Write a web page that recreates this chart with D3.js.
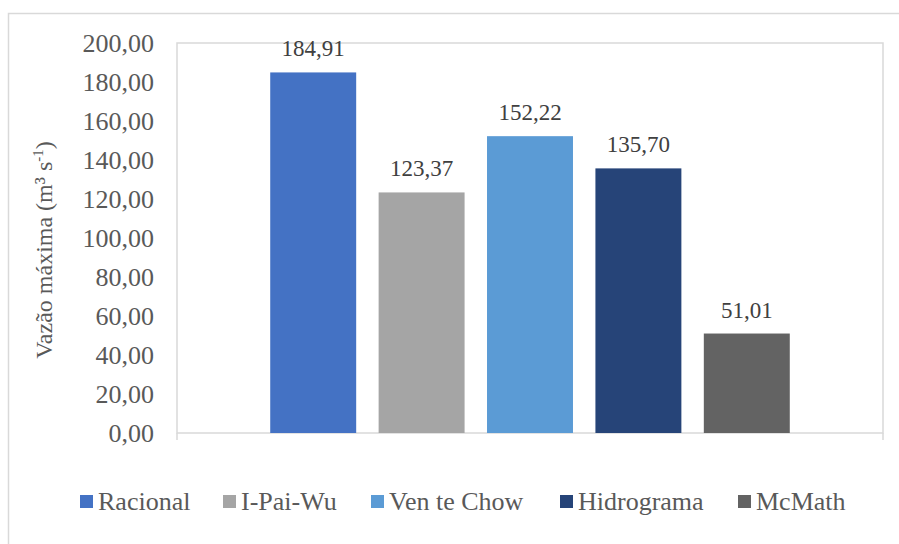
<!DOCTYPE html>
<html>
<head>
  <meta charset="utf-8">
  <script src="https://d3js.org/d3.v7.min.js"></script>
  <style>
    body { margin: 0; background: #fff; }
  </style>
</head>
<body>
  <div id="chart"></div>
  <script>
    var categories = ["Racional", "I-Pai-Wu", "Ven te Chow", "Hidrograma", "McMath"];
    var values = [184.91, 123.37, 152.22, 135.70, 51.01];
    var colors = ["#4472C4", "#A5A5A5", "#5B9BD5", "#264478", "#636363"];
    var yTicks = [0, 20, 40, 60, 80, 100, 120, 140, 160, 180, 200];

    var width = 899, height = 544;
    var plot = { left: 177, right: 883, top: 43, bottom: 433 };
    var serif = "'Liberation Serif', 'Times New Roman', Tinos, 'DejaVu Serif', serif";

    var svg = d3.select("#chart").append("svg")
      .attr("width", width)
      .attr("height", height)
      .style("font-family", serif);

    // outer chart border
    svg.append("rect")
      .attr("x", 8.5).attr("y", 13.5)
      .attr("width", 1000).attr("height", 1000)
      .attr("fill", "none")
      .attr("stroke", "#d9d9d9")
      .attr("stroke-width", 1.5);

    var x = d3.scaleBand()
      .domain(categories)
      .range([plot.left, plot.right])
      .paddingInner(0.207)
      .paddingOuter(0.86);

    var y = d3.scaleLinear()
      .domain([0, 200])
      .range([plot.bottom, plot.top]);

    var fmt = function(v) { return d3.format(".2f")(v).replace(".", ","); };

    // plot area frame
    svg.append("rect")
      .attr("x", plot.left).attr("y", plot.top)
      .attr("width", plot.right - plot.left)
      .attr("height", plot.bottom - plot.top)
      .attr("fill", "none")
      .attr("stroke", "#d9d9d9")
      .attr("stroke-width", 1.5);

    // edge tick marks under the category axis
    svg.selectAll(".edge")
      .data([plot.left, plot.right])
      .enter().append("line")
      .attr("x1", function(d) { return d; }).attr("x2", function(d) { return d; })
      .attr("y1", plot.bottom).attr("y2", plot.bottom + 7)
      .attr("stroke", "#d9d9d9")
      .attr("stroke-width", 1.5);

    // y axis labels
    var yAxis = svg.append("g")
      .attr("transform", "translate(" + plot.left + ",0)")
      .call(d3.axisLeft(y).tickValues(yTicks).tickFormat(fmt).tickSize(0).tickPadding(23));
    yAxis.attr("font-family", null).attr("font-size", null);
    yAxis.select(".domain").remove();
    yAxis.selectAll("text")
      .attr("fill", "#595959")
      .style("font-size", "26px")
      .style("font-family", serif);

    // bars
    svg.selectAll(".bar")
      .data(values)
      .enter().append("rect")
      .attr("class", "bar")
      .attr("x", function(d, i) { return x(categories[i]); })
      .attr("y", function(d) { return y(d); })
      .attr("width", x.bandwidth())
      .attr("height", function(d) { return y(0) - y(d); })
      .attr("fill", function(d, i) { return colors[i]; });

    // value labels
    svg.selectAll(".lbl")
      .data(values)
      .enter().append("text")
      .attr("class", "lbl")
      .attr("x", function(d, i) { return x(categories[i]) + x.bandwidth() / 2; })
      .attr("y", function(d) { return y(d) - 16; })
      .attr("text-anchor", "middle")
      .attr("fill", "#404040")
      .style("font-family", serif)
      .style("font-size", "23px")
      .text(fmt);

    // y axis title
    var title = svg.append("text")
      .attr("transform", "translate(52,250) rotate(-90)")
      .attr("text-anchor", "middle")
      .attr("fill", "#595959")
      .style("font-family", serif)
      .style("font-size", "24px");
    title.append("tspan").text("Vazão máxima (m³ s");
    title.append("tspan").attr("dy", -9).style("font-size", "15px").text("-1");
    title.append("tspan").attr("dy", 9).text(")");

    // legend
    var legendX = [80, 223, 371, 560, 738];
    var legend = svg.selectAll(".leg")
      .data(categories)
      .enter().append("g")
      .attr("class", "leg")
      .attr("transform", function(d, i) { return "translate(" + legendX[i] + ",495)"; });
    legend.append("rect")
      .attr("width", 13).attr("height", 13)
      .attr("fill", function(d, i) { return colors[i]; });
    legend.append("text")
      .attr("x", 18).attr("y", 15)
      .attr("fill", "#595959")
      .style("font-family", serif)
      .style("font-size", "26px")
      .text(function(d) { return d; });
  </script>
</body>
</html>
